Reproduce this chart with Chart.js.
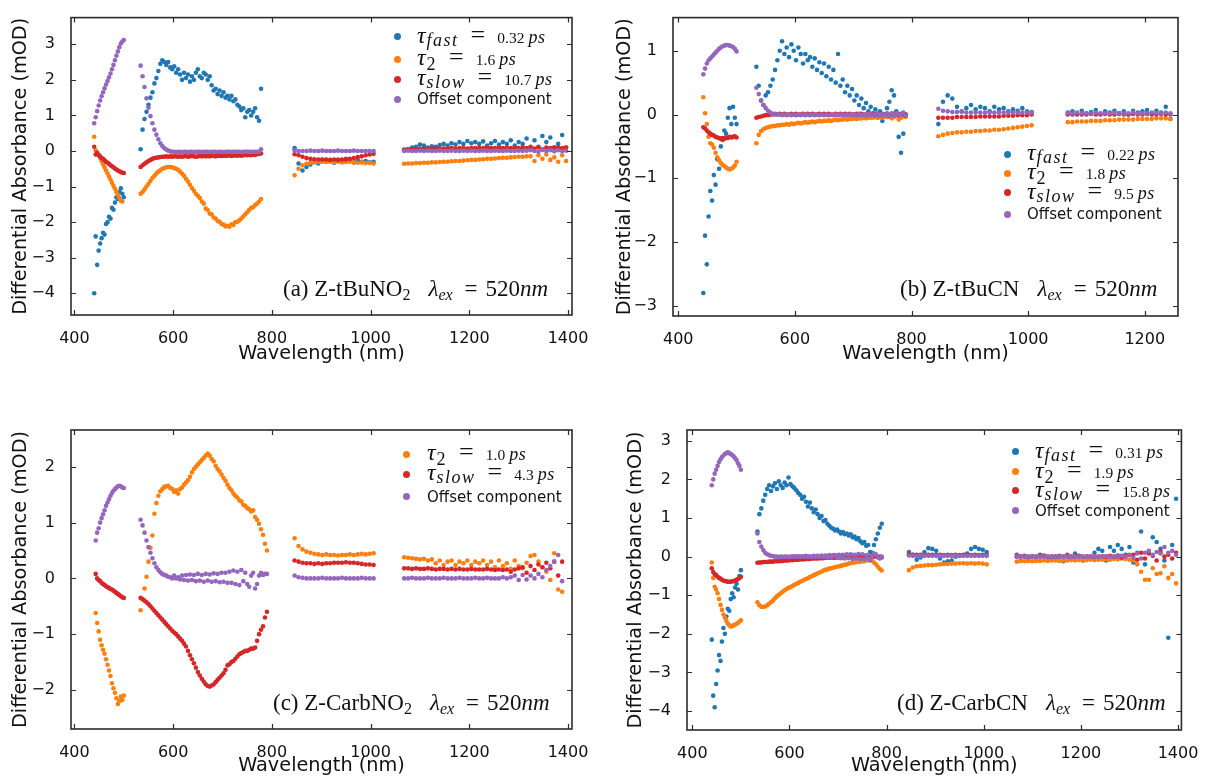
<!DOCTYPE html>
<html>
<head>
<meta charset="utf-8">
<title>Decay-associated difference spectra</title>
<script src="https://cdn.jsdelivr.net/npm/chart.js@4.4.1/dist/chart.umd.min.js"></script>
<style>
  html, body { margin: 0; padding: 0; background: #fff; }
  #fig { position: relative; width: 1205px; height: 778px; overflow: hidden; }
  .panel { position: absolute; }
  .dot { position: absolute; width: 7px; height: 7px; border-radius: 50%; }
  .row, .note { position: absolute; white-space: nowrap; font-family: 'Liberation Serif', serif;
                font-size: 22px; line-height: 22px; color: #111; }
  .tau { font-style: italic; font-size: 24px; }
  .tsub { font-style: italic; font-size: 18px; letter-spacing: 1.5px; vertical-align: -3px; margin-left: 1px; }
  .tsub.up { font-style: normal; vertical-align: -5px; }
  .eq { font-size: 26px; margin-left: 12px; }
  .num { font-size: 15.5px; margin-left: 12px; }
  .unit { font-style: italic; font-size: 18px; margin-left: 4px; letter-spacing: 0.5px; }
  .plain { font-family: 'DejaVu Sans', sans-serif; font-size: 15px; }
  .note { font-size: 23px; line-height: 23px; }
  .note .s { font-size: 16px; vertical-align: -4px; }
  .note .lam { font-style: italic; margin-left: 18px; }
  .note .s.it { font-style: italic; }
  .note .eq2 { margin: 0 8px 0 12px; }
  .note .it { font-style: italic; }
</style>
</head>
<body>
<div id="fig">
  <div class="panel" style="left:0;top:0"><canvas id="chartA" width="600" height="380"></canvas></div>
  <div class="panel" style="left:600px;top:0"><canvas id="chartB" width="605" height="380"></canvas></div>
  <div class="panel" style="left:0;top:400px"><canvas id="chartC" width="600" height="378"></canvas></div>
  <div class="panel" style="left:600px;top:400px"><canvas id="chartD" width="605" height="378"></canvas></div>
</div>
<script>
// wavelength grid (nm), four detector windows
const wlUV = [440, 443, 446, 449, 452, 455, 458, 461, 464, 467,
              470, 473, 476, 479, 482, 485, 488, 491, 494, 497, 500];
const wlVis = [534, 538, 542, 546, 550, 554, 558, 562, 566, 570,
               574, 578, 582, 586, 590, 594, 598, 602, 606, 610,
               614, 618, 622, 626, 630, 634, 638, 642, 646, 650,
               654, 658, 662, 666, 670, 674, 678, 682, 686, 690,
               694, 698, 702, 706, 710, 714, 718, 722, 726, 730,
               734, 738, 742, 746, 750, 754, 758, 762, 766, 770,
               774, 778, 782, 786, 790];
const wlNir1 = [846, 854, 862, 870, 878, 886, 894, 902, 910, 918,
                926, 934, 942, 950, 958, 966, 974, 982, 990, 998, 1006];
const wlNir2 = [1068, 1076, 1084, 1092, 1100, 1108, 1116, 1124, 1132, 1140,
                1148, 1156, 1164, 1172, 1180, 1188, 1196, 1204, 1212, 1220,
                1228, 1236, 1244, 1252, 1260, 1268, 1276, 1284, 1292, 1300,
                1308, 1316, 1324, 1332, 1340, 1348, 1356, 1364, 1372, 1380,
                1388, 1396];
const wavelengths = [].concat(wlUV, wlVis, wlNir1, wlNir2);

// axis tick values
const xTicksFull = [400, 600, 800, 1000, 1200, 1400];
const xTicksShort = [400, 600, 800, 1000, 1200];
const yTicksA = [-4, -3, -2, -1, 0, 1, 2, 3];
const yTicksB = [-3, -2, -1, 0, 1];
const yTicksC = [-2, -1, 0, 1, 2];
const yTicksD = [-4, -3, -2, -1, 0, 1, 2, 3];

// lifetimes (ps) shown in the legends
const tauA = ['0.32', '1.6', '10.7'];
const tauB = ['0.22', '1.8', '9.5'];
const tauC = ['1.0', '4.3'];
const tauD = ['0.31', '1.9', '15.8'];

// ---- (a) Z-tBuNO2 ----
const aFast = [
  -4.0, -2.4, -3.2, -2.8, -2.6, -2.45, -2.3, -2.35, -2.05, -2.0,
  -1.85, -1.9, -1.6, -1.65, -1.45, -1.3, -1.35, -1.15, -1.05, -1.2,
  -1.3,
  0.05, 0.6, 0.9, 1.1, 1.3, 1.5, 1.65, 1.9, 2.05, 2.25,
  2.45, 2.55, 2.5, 2.42, 2.5, 2.35, 2.3, 2.38, 2.2, 2.3,
  2.15, 2.0, 2.2, 2.05, 2.15, 1.95, 2.1, 2.0, 2.2, 2.3,
  2.1, 2.05, 2.2, 2.15, 2.0, 2.1, 1.85, 1.7, 1.75, 1.6,
  1.7, 1.55, 1.65, 1.5, 1.55, 1.45, 1.55, 1.4, 1.45, 1.3,
  1.25, 1.15, 1.2, 0.95, 1.1, 1.15, 1.0, 1.1, 1.2, 0.95,
  0.85, 1.75, null, null, null,
  0.08, -0.35, -0.55, -0.45, -0.38, -0.3, -0.35, -0.25, -0.3, -0.28,
  -0.33, -0.25, -0.3, -0.22, -0.28, -0.32, -0.26, -0.3, -0.28, -0.32,
  -0.3,
  0.02, 0.05, 0.1, 0.12, 0.18, 0.15, 0.1, 0.13, 0.12, 0.17,
  0.2, 0.15, 0.22, 0.18, 0.25, 0.2, 0.28, 0.22, 0.25, 0.2,
  0.27, 0.15, 0.22, 0.28, 0.18, 0.25, 0.2, 0.3, 0.15, 0.25,
  0.2, 0.35, 0.1, 0.3, 0.12, 0.42, 0.25, 0.38, 0.1, 0.2,
  0.45, 0.1
];
const aT2 = [
  0.4, 0.02, -0.05, -0.11, -0.2, -0.29, -0.37, -0.46, -0.55, -0.63,
  -0.72, -0.8, -0.89, -0.98, -1.06, -1.15, -1.23, -1.32, -1.4, -1.42,
  null,
  -1.2, -1.15, -1.08, -1.0, -0.92, -0.84, -0.76, -0.7, -0.63, -0.58,
  -0.54, -0.5, -0.48, -0.46, -0.45, -0.45, -0.46, -0.48, -0.5, -0.53,
  -0.58, -0.64, -0.7, -0.78, -0.86, -0.95, -1.04, -1.12, -1.2, -1.26,
  -1.32, -1.42, -1.48, -1.62, -1.66, -1.76, -1.78, -1.87, -1.9, -1.97,
  -1.99, -2.05, -2.07, -2.12, -2.1, -2.13, -2.06, -2.08, -2.0, -1.99,
  -1.95, -1.9, -1.84, -1.78, -1.72, -1.66, -1.6, -1.58, -1.52, -1.48,
  -1.42, -1.35, null, null, null,
  -0.68, -0.5, -0.4, -0.36, -0.33, -0.32, -0.31, -0.3, -0.31, -0.3,
  -0.31, -0.3, -0.32, -0.31, -0.3, -0.32, -0.33, -0.32, -0.34, -0.33,
  -0.35,
  -0.36, -0.35, -0.35, -0.34, -0.34, -0.33, -0.33, -0.32, -0.32, -0.31,
  -0.3, -0.3, -0.29, -0.28, -0.28, -0.27, -0.26, -0.25, -0.25, -0.24,
  -0.23, -0.22, -0.22, -0.21, -0.2, -0.19, -0.19, -0.18, -0.17, -0.16,
  -0.16, -0.15, -0.15, -0.28, -0.12, -0.22, -0.1, -0.25, -0.18, -0.3,
  -0.12, -0.28
];
const aSlow = [
  0.12, -0.1, -0.05, -0.12, -0.15, -0.2, -0.22, -0.26, -0.3, -0.33,
  -0.36, -0.4, -0.43, -0.46, -0.49, -0.52, -0.55, -0.57, -0.59, -0.61,
  -0.62,
  -0.45, -0.4, -0.36, -0.32, -0.28, -0.25, -0.22, -0.2, -0.19, -0.18,
  -0.17, -0.16, -0.16, -0.15, -0.16, -0.15, -0.16, -0.15, -0.15, -0.16,
  -0.15, -0.16, -0.15, -0.14, -0.16, -0.15, -0.14, -0.15, -0.16, -0.15,
  -0.14, -0.15, -0.14, -0.15, -0.14, -0.15, -0.13, -0.14, -0.15, -0.14,
  -0.13, -0.14, -0.13, -0.14, -0.13, -0.12, -0.14, -0.13, -0.12, -0.13,
  -0.12, -0.13, -0.12, -0.11, -0.12, -0.11, -0.12, -0.1, -0.11, -0.09,
  -0.08, -0.07, null, null, null,
  -0.09, -0.12, -0.16, -0.2, -0.22, -0.23, -0.24, -0.24, -0.24, -0.25,
  -0.24, -0.25, -0.24, -0.24, -0.22, -0.2, -0.17, -0.15, -0.12, -0.1,
  -0.08,
  0.04, 0.05, 0.05, 0.06, 0.06, 0.06, 0.07, 0.06, 0.07, 0.07,
  0.07, 0.07, 0.08, 0.07, 0.08, 0.08, 0.07, 0.08, 0.08, 0.08,
  0.08, 0.09, 0.08, 0.08, 0.09, 0.08, 0.09, 0.08, 0.09, 0.08,
  0.1, 0.08, 0.12, 0.07, 0.1, 0.05, 0.1, 0.08, 0.1, 0.09,
  0.08, 0.1
];
const aOffset = [
  0.78, 0.95, 1.12, 1.28, 1.42, 1.54, 1.65, 1.76, 1.87, 1.97,
  2.07, 2.18, 2.3, 2.42, 2.55, 2.68, 2.8, 2.92, 3.02, 3.08,
  3.12,
  2.4, 2.1, 1.8, 1.48, 1.22, 0.98, 0.78, 0.6, 0.46, 0.33,
  0.22, 0.14, 0.08, 0.04, 0.01, -0.01, -0.02, -0.02, -0.03, -0.02,
  -0.02, -0.03, -0.02, -0.02, -0.03, -0.02, -0.02, -0.03, -0.02, -0.02,
  -0.02, -0.03, -0.02, -0.02, -0.02, -0.03, -0.02, -0.02, -0.02, -0.03,
  -0.02, -0.02, -0.03, -0.02, -0.02, -0.02, -0.03, -0.02, -0.02, -0.02,
  -0.02, -0.03, -0.02, -0.02, -0.02, -0.02, -0.03, -0.02, -0.02, -0.02,
  -0.02, 0.05, null, null, null,
  0.01, 0.0, 0.0, 0.0, 0.01, 0.0, 0.0, 0.01, 0.0, 0.0,
  0.0, 0.01, 0.0, 0.0, 0.0, 0.01, 0.0, 0.0, 0.0, 0.0,
  0.0,
  0.0, 0.01, 0.0, 0.0, 0.01, 0.0, 0.01, 0.0, 0.0, 0.01,
  0.0, 0.0, 0.01, 0.0, 0.0, 0.01, 0.0, 0.01, 0.0, 0.0,
  0.01, 0.0, 0.0, 0.01, 0.0, 0.0, 0.01, 0.0, 0.0, 0.01,
  0.0, 0.01, 0.02, 0.0, -0.02, 0.03, 0.0, 0.02, -0.01, 0.02,
  0.0, 0.01
];

// ---- (b) Z-tBuCN (NIR window stops at 1244 nm) ----
const bFast = [
  null, -2.8, -1.9, -2.35, -1.6, -1.2, -1.35, -0.95, -1.1, -0.7,
  -0.85, -0.5, -0.4, -0.25, -0.3, -0.05, 0.1, -0.15, 0.12, -0.05,
  -0.15,
  0.75, 0.45, 0.22, 0.15, 0.3, 0.35, 0.45, 0.55, 0.7, 0.85,
  1.0, 1.15, 0.95, 1.05, 0.9, 1.1, 1.0, 0.85, 1.05, 0.95,
  0.8, 0.95, 0.85, 0.9, 0.75, 0.88, 0.7, 0.82, 0.65, 0.8,
  0.6, 0.75, 0.55, 0.7, 0.5, 0.95, 0.45, 0.55, 0.35, 0.45,
  0.3, 0.4, 0.22, 0.3, 0.15, 0.25, 0.1, 0.18, 0.05, 0.12,
  0.02, 0.08, -0.05, 0.05, -0.1, 0.0, 0.1, 0.2, 0.38, 0.3,
  0.05, -0.35, -0.6, -0.3, 0.0,
  -0.15, 0.2, 0.3, 0.25, 0.12, 0.05, 0.1, 0.15, 0.08, 0.12,
  0.1, 0.05, 0.12, 0.08, 0.1, 0.05, 0.08, 0.06, 0.1, 0.05,
  0.04,
  0.03, 0.05, 0.0, 0.06, 0.02, 0.04, 0.07, 0.01, 0.05, 0.03,
  0.06, 0.02, 0.05, 0.0, 0.06, 0.03, 0.05, 0.07, 0.02, 0.06,
  0.03, 0.12, -0.07
];
const bT2 = [
  null, 0.27, 0.02, -0.15, -0.35, -0.45, -0.47, -0.52, -0.6, -0.67,
  -0.72, -0.76, -0.79, -0.81, -0.83, -0.85, -0.86, -0.85, -0.83, -0.8,
  -0.74,
  -0.45, -0.32, -0.26, -0.23, -0.21, -0.2, -0.19, -0.18, -0.18, -0.17,
  -0.17, -0.16, -0.16, -0.15, -0.16, -0.14, -0.15, -0.14, -0.13, -0.14,
  -0.13, -0.12, -0.13, -0.12, -0.11, -0.12, -0.11, -0.1, -0.11, -0.1,
  -0.1, -0.09, -0.1, -0.09, -0.08, -0.09, -0.08, -0.08, -0.07, -0.08,
  -0.07, -0.07, -0.06, -0.07, -0.06, -0.06, -0.05, -0.06, -0.05, -0.05,
  -0.05, -0.04, -0.05, -0.04, -0.05, -0.03, -0.04, -0.03, -0.06, -0.04,
  -0.02, -0.08, -0.05, -0.03, -0.04,
  -0.34, -0.32, -0.3, -0.29, -0.28, -0.28, -0.27, -0.27, -0.26, -0.26,
  -0.25, -0.25, -0.24, -0.24, -0.23, -0.22, -0.21, -0.2, -0.19, -0.18,
  -0.17,
  -0.12, -0.12, -0.11, -0.11, -0.11, -0.1, -0.1, -0.1, -0.09, -0.09,
  -0.09, -0.08, -0.08, -0.08, -0.08, -0.07, -0.07, -0.07, -0.07, -0.06,
  -0.06, -0.06, -0.07
];
const bSlow = [
  null, -0.2, -0.22, -0.25, -0.28, -0.3, -0.32, -0.33, -0.35, -0.36,
  -0.37, -0.38, -0.37, -0.38, -0.36, -0.37, -0.35, -0.36, -0.35, -0.34,
  -0.36,
  -0.05, -0.04, -0.03, -0.02, -0.01, -0.01, 0.0, 0.0, 0.01, 0.0,
  0.01, 0.0, 0.01, 0.0, 0.0, 0.01, 0.0, 0.01, 0.0, 0.0,
  0.01, 0.0, 0.01, 0.0, 0.01, 0.0, 0.0, 0.01, 0.0, 0.01,
  0.0, 0.01, 0.0, 0.0, 0.01, 0.0, 0.01, 0.0, 0.01, 0.0,
  0.01, 0.0, 0.0, 0.01, 0.0, 0.01, 0.0, 0.0, 0.01, 0.0,
  0.01, 0.0, 0.0, 0.01, 0.0, 0.0, 0.01, 0.0, 0.0, 0.01,
  0.0, 0.0, 0.01, 0.0, 0.0,
  -0.05, -0.05, -0.05, -0.05, -0.04, -0.04, -0.04, -0.04, -0.04, -0.03,
  -0.03, -0.03, -0.03, -0.03, -0.02, -0.02, -0.02, -0.01, -0.01, -0.01,
  0.0,
  0.0, 0.0, 0.01, 0.0, 0.0, 0.01, 0.0, 0.0, 0.01, 0.0,
  0.0, 0.01, 0.0, 0.0, 0.01, 0.0, 0.0, 0.01, 0.0, 0.0,
  0.01, 0.0, 0.0
];
const bOffset = [
  null, 0.63, 0.72, 0.8, 0.85, 0.88, 0.91, 0.94, 0.97, 1.0,
  1.03, 1.05, 1.07, 1.08, 1.09, 1.09, 1.08, 1.07, 1.06, 1.03,
  0.99,
  0.42, 0.32, 0.22, 0.15, 0.1, 0.06, 0.03, 0.01, 0.0, 0.0,
  0.0, -0.01, 0.0, -0.01, 0.0, -0.01, 0.0, -0.01, 0.0, -0.01,
  0.0, -0.01, 0.0, -0.01, 0.0, -0.01, 0.0, -0.01, 0.0, -0.01,
  0.0, -0.01, 0.0, -0.01, 0.0, -0.01, 0.0, -0.01, 0.0, -0.01,
  0.0, -0.01, 0.0, -0.02, 0.01, -0.01, 0.0, -0.02, 0.01, -0.01,
  0.0, -0.02, 0.02, -0.02, 0.01, -0.02, 0.02, -0.03, 0.02, -0.02,
  0.02, -0.02, 0.0, 0.03, -0.02,
  0.09, 0.06, 0.05, 0.04, 0.04, 0.04, 0.03, 0.03, 0.03, 0.03,
  0.03, 0.03, 0.03, 0.03, 0.03, 0.03, 0.03, 0.03, 0.03, 0.03,
  0.03,
  0.02, 0.02, 0.03, 0.02, 0.02, 0.02, 0.03, 0.02, 0.02, 0.02,
  0.03, 0.02, 0.02, 0.02, 0.03, 0.02, 0.02, 0.02, 0.03, 0.02,
  0.02, 0.03, 0.02
];

// ---- (c) Z-CarbNO2 ----
const cT2 = [
  null, -0.62, -0.8, -0.95, -1.1, -1.2, -1.28, -1.35, -1.45, -1.55,
  -1.65, -1.75, -1.88, -1.97, -2.05, -2.15, -2.25, -2.2, -2.12, -2.18,
  -2.1,
  -0.57, -0.38, -0.18, 0.03, 0.3, 0.55, 0.77, 1.16, 1.35, 1.48,
  1.56, 1.6, 1.64, 1.65, 1.66, 1.62, 1.6, 1.55, 1.58, 1.52,
  1.6, 1.63, 1.68, 1.72, 1.76, 1.82, 1.9, 1.96, 2.0, 2.04,
  2.08, 2.12, 2.16, 2.2, 2.24, 2.2, 2.14, 2.1, 2.02, 1.96,
  1.92, 1.86, 1.8, 1.75, 1.68, 1.62, 1.58, 1.52, 1.48, 1.45,
  1.4, 1.38, 1.32, 1.3, 1.26, 1.24, 1.2, 1.22, 1.1, 1.05,
  0.98, 0.88, 0.78, 0.62, 0.5,
  0.72, 0.58, 0.52, 0.48, 0.46, 0.44, 0.43, 0.42, 0.43, 0.42,
  0.42, 0.41, 0.42, 0.42, 0.43, 0.42, 0.43, 0.44, 0.43, 0.44,
  0.45,
  0.38, 0.37, 0.36, 0.35, 0.34, 0.35, 0.32, 0.34, 0.27, 0.32,
  0.24, 0.3, 0.32, 0.24, 0.3, 0.27, 0.32, 0.24, 0.3, 0.27,
  0.32, 0.24, 0.3, 0.2, 0.32, 0.22, 0.27, 0.17, 0.32, 0.22,
  0.18, 0.28, 0.4, 0.42, 0.3, 0.2, 0.12, -0.03, 0.45, -0.2,
  -0.24, null
];
const cSlow = [
  null, 0.08, 0.0, -0.03, -0.05, -0.08, -0.1, -0.12, -0.14, -0.16,
  -0.17, -0.19, -0.2, -0.22, -0.24, -0.26, -0.28, -0.3, -0.32, -0.34,
  -0.35,
  -0.35, -0.37, -0.4, -0.43, -0.46, -0.5, -0.54, -0.58, -0.62, -0.66,
  -0.7, -0.74, -0.78, -0.82, -0.86, -0.9, -0.94, -0.97, -1.0, -1.04,
  -1.08, -1.12, -1.17, -1.22, -1.3, -1.38, -1.45, -1.52, -1.6, -1.68,
  -1.74, -1.8, -1.85, -1.9, -1.93, -1.94, -1.92, -1.9, -1.86, -1.82,
  -1.78, -1.74, -1.7, -1.64, -1.56, -1.54, -1.5, -1.48, -1.44, -1.4,
  -1.36, -1.34, -1.32, -1.3, -1.3, -1.28, -1.26, -1.26, -1.24, -1.12,
  -1.0, -0.92, -0.86, -0.7, -0.6,
  0.32, 0.3, 0.28, 0.27, 0.27, 0.26, 0.27, 0.26, 0.27, 0.27,
  0.28, 0.28, 0.28, 0.29, 0.28, 0.28, 0.27, 0.26, 0.25, 0.25,
  0.24,
  0.18, 0.18, 0.17, 0.18, 0.17, 0.17, 0.18, 0.17, 0.16, 0.17,
  0.17, 0.16, 0.17, 0.16, 0.17, 0.16, 0.16, 0.17, 0.16, 0.16,
  0.16, 0.17, 0.16, 0.15, 0.16, 0.15, 0.16, 0.12, 0.16, 0.18,
  0.2, 0.1, 0.22, 0.15, 0.25, 0.2, 0.28, 0.18, 0.3, 0.05,
  0.3, null
];
const cOffset = [
  null, 0.68, 0.82, 0.9, 1.0, 1.08, 1.15, 1.22, 1.3, 1.36,
  1.42, 1.48, 1.53, 1.57, 1.6, 1.63, 1.65, 1.66, 1.65, 1.63,
  1.62,
  1.05, 0.95, 0.82, 0.68, 0.56, 0.46, 0.36, 0.27, 0.2, 0.15,
  0.11, 0.08, 0.06, 0.05, 0.03, 0.02, 0.0, 0.05, 0.0, 0.02,
  -0.02, 0.05, -0.03, 0.06, -0.04, 0.07, -0.03, 0.06, -0.05, 0.08,
  -0.04, 0.06, -0.06, 0.08, -0.04, 0.07, -0.06, 0.09, -0.05, 0.08,
  -0.07, 0.1, -0.06, 0.1, -0.08, 0.12, -0.08, 0.14, -0.1, 0.12,
  -0.12, 0.15, -0.05, 0.1, -0.1, -0.15, 0.05, 0.1, -0.18, -0.1,
  0.05, 0.1, 0.06, 0.08, 0.08,
  0.05, 0.02, 0.01, 0.0, 0.0, 0.0, 0.0, 0.01, 0.0, 0.0,
  0.0, 0.0, 0.01, 0.0, 0.0, 0.0, 0.0, 0.01, 0.0, 0.0,
  0.0,
  0.0, 0.0, 0.01, 0.0, 0.0, 0.0, 0.01, 0.0, 0.0, 0.0,
  0.01, 0.0, 0.0, 0.0, 0.01, 0.0, 0.0, 0.0, 0.01, 0.0,
  0.0, 0.01, 0.0, 0.0, 0.0, 0.02, 0.0, 0.02, 0.05, -0.03,
  0.06, -0.02, 0.05, 0.0, 0.08, 0.02, 0.15, 0.22, 0.3, 0.42,
  -0.05, null
];

// ---- (d) Z-CarbCN ----
const dFast = [
  -2.15, -3.6, -3.9, -3.3, -2.95, -2.55, -2.7, -2.2, -1.85, -2.0,
  -1.55, -1.35, -1.4, -1.1, -0.95, -1.05, -0.8, -0.7, -0.85, -0.5,
  -0.35,
  0.65, 1.1, 1.25, 1.45, 1.6, 1.75, 1.85, 1.7, 1.82, 1.9,
  1.75, 1.95, 1.85, 1.78, 1.92, 1.85, 2.05, 1.88, 1.82, 1.78,
  1.72, 1.65, 1.6, 1.5, 1.55, 1.42, 1.3, 1.4, 1.25, 1.15,
  1.22, 1.1, 1.0, 1.05, 0.92, 0.95, 0.85, 0.8, 0.75, 0.72,
  0.68, 0.7, 0.65, 0.6, 0.64, 0.58, 0.6, 0.55, 0.58, 0.5,
  0.52, 0.45, 0.48, 0.4, 0.35, 0.38, 0.28, 0.3, 0.12, 0.1,
  0.3, 0.45, 0.6, 0.75, 0.85,
  0.12, 0.05, -0.08, -0.02, 0.12, 0.22, 0.2, 0.15, -0.05, -0.15,
  -0.12, -0.1, 0.0, 0.02, 0.04, 0.08, 0.2, 0.25, 0.2, 0.18,
  0.12,
  0.05, -0.1, 0.02, -0.08, 0.0, -0.1, 0.05, 0.03, -0.08, 0.0,
  -0.05, 0.02, -0.12, 0.05, -0.05, 0.08, 0.02, -0.1, 0.0, -0.05,
  0.1, 0.2, 0.15, -0.1, 0.25, 0.15, 0.3, 0.2, 0.05, 0.25,
  -0.15, 0.1, 0.65, -0.2, 0.1, 0.5, 0.38, 0.2, -0.1, -2.1,
  0.3, 1.5
];
const dT2 = [
  -0.15, -0.55, -0.78, -0.85, -0.95, -1.1, -1.25, -1.38, -1.5, -1.58,
  -1.66, -1.73, -1.78, -1.81, -1.8, -1.78, -1.76, -1.74, -1.72, -1.68,
  -1.65,
  -1.18, -1.26, -1.3, -1.3, -1.29, -1.26, -1.22, -1.18, -1.14, -1.08,
  -1.03, -0.99, -0.95, -0.91, -0.87, -0.84, -0.81, -0.79, -0.76, -0.73,
  -0.71, -0.68, -0.65, -0.63, -0.6, -0.58, -0.56, -0.53, -0.51, -0.48,
  -0.46, -0.43, -0.41, -0.39, -0.36, -0.34, -0.33, -0.31, -0.3, -0.29,
  -0.27, -0.26, -0.25, -0.24, -0.22, -0.21, -0.2, -0.18, -0.17, -0.16,
  -0.15, -0.14, -0.13, -0.13, -0.12, -0.12, -0.1, -0.09, -0.08, -0.1,
  -0.15, -0.2, -0.26, -0.32, -0.36,
  -0.35, -0.28, -0.25, -0.24, -0.23, -0.22, -0.22, -0.21, -0.2, -0.19,
  -0.19, -0.18, -0.18, -0.17, -0.17, -0.18, -0.17, -0.18, -0.17, -0.18,
  -0.2,
  -0.13, -0.12, -0.12, -0.11, -0.12, -0.11, -0.11, -0.1, -0.11, -0.1,
  -0.1, -0.11, -0.1, -0.1, -0.09, -0.1, -0.09, -0.1, -0.09, -0.08,
  -0.09, -0.08, -0.08, -0.07, -0.08, -0.06, -0.07, -0.05, -0.06, -0.08,
  -0.1, -0.2, -0.39, -0.6, -0.6, -0.3, -0.45, -0.43, -0.25, -0.55,
  -0.45, -0.69
];
const dSlow = [
  -0.3, -0.4, -0.45, -0.48, -0.52, -0.55, -0.57, -0.6, -0.62, -0.63,
  -0.64, -0.65, -0.65, -0.65, -0.64, -0.63, -0.62, -0.6, -0.58, -0.55,
  -0.52,
  -0.16, -0.15, -0.15, -0.14, -0.14, -0.14, -0.13, -0.13, -0.13, -0.12,
  -0.12, -0.12, -0.11, -0.11, -0.1, -0.1, -0.1, -0.09, -0.09, -0.08,
  -0.08, -0.08, -0.07, -0.07, -0.07, -0.06, -0.06, -0.06, -0.05, -0.05,
  -0.05, -0.05, -0.04, -0.04, -0.04, -0.03, -0.03, -0.03, -0.03, -0.03,
  -0.03, -0.02, -0.02, -0.02, -0.02, -0.02, -0.01, -0.01, -0.01, -0.01,
  -0.01, 0.0, -0.01, 0.0, -0.01, 0.0, 0.01, 0.0, -0.01, 0.0,
  0.0, 0.01, -0.01, 0.0, -0.02,
  0.06, 0.05, 0.05, 0.05, 0.05, 0.05, 0.05, 0.04, 0.05, 0.04,
  0.05, 0.04, 0.05, 0.04, 0.05, 0.05, 0.04, 0.05, 0.04, 0.05,
  0.04,
  0.0, 0.01, 0.0, 0.0, 0.01, 0.0, 0.0, 0.01, 0.0, 0.0,
  0.01, 0.0, 0.0, 0.01, 0.0, 0.0, 0.01, 0.0, 0.0, 0.01,
  0.0, 0.0, 0.01, 0.0, 0.02, 0.0, 0.03, -0.02, 0.02, 0.04,
  0.05, -0.08, 0.1, -0.05, 0.08, 0.02, -0.1, 0.12, 0.0, 0.05,
  -0.05, 0.1
];
const dOffset = [
  1.85, 2.0, 2.15, 2.25, 2.35, 2.45, 2.52, 2.58, 2.62, 2.66,
  2.68, 2.7, 2.68, 2.66, 2.63, 2.6, 2.55, 2.5, 2.42, 2.35,
  2.25,
  0.6, 0.38, 0.26, 0.17, 0.1, 0.06, 0.04, 0.02, 0.01, 0.0,
  0.0, -0.01, 0.0, -0.01, 0.0, 0.0, -0.01, 0.0, 0.0, 0.01,
  0.0, 0.01, 0.0, 0.01, 0.0, 0.02, 0.0, 0.01, -0.01, 0.02,
  0.0, 0.02, -0.01, 0.03, -0.01, 0.03, -0.02, 0.04, -0.02, 0.04,
  0.04, -0.03, 0.05, -0.04, 0.05, -0.05, 0.06, -0.04, 0.06, -0.06,
  0.05, -0.05, 0.07, -0.06, 0.06, -0.07, 0.04, -0.05, -0.1, 0.0,
  0.08, 0.06, -0.02, -0.05, 0.0,
  0.03, 0.02, 0.02, 0.02, 0.02, 0.02, 0.02, 0.02, 0.02, 0.02,
  0.02, 0.02, 0.02, 0.02, 0.02, 0.02, 0.02, 0.02, 0.02, 0.02,
  0.02,
  0.0, 0.0, 0.0, 0.0, 0.0, 0.0, 0.0, 0.0, 0.0, 0.0,
  0.0, 0.0, 0.0, 0.0, 0.0, 0.0, 0.0, 0.0, 0.0, 0.0,
  0.0, 0.0, 0.0, 0.01, 0.0, 0.0, 0.0, 0.02, 0.0, 0.05,
  -0.03, 0.08, -0.05, 0.1, 0.15, 0.05, 0.12, 0.08, 0.25, 0.1,
  0.15, 0.05
];

const BLUE = '#1f77b4', ORANGE = '#ff7f0e', RED = '#d62728', PURPLE = '#9467bd';
const INK = '#111111';

function toPoints(values) {
  const pts = [];
  values.forEach((v, i) => {
    if (v !== null && v !== undefined) pts.push({ x: wavelengths[i], y: v });
  });
  return pts;
}

function minusSign(v) {
  return v < 0 ? '\u2212' + Math.abs(v) : String(v);
}

// box around the plot with inward ticks on all four sides
const frameTicks = {
  id: 'frameTicks',
  afterDatasetsDraw(chart) {
    const { ctx, chartArea: ca } = chart;
    const xs = chart.scales.x, ys = chart.scales.y;
    const len = 5;
    ctx.save();
    ctx.strokeStyle = '#2b2b2b';
    ctx.lineWidth = 1.2;
    ctx.beginPath();
    xs.ticks.forEach(t => {
      const px = Math.round(xs.getPixelForValue(t.value)) + 0.5;
      ctx.moveTo(px, ca.bottom); ctx.lineTo(px, ca.bottom - len);
      ctx.moveTo(px, ca.top); ctx.lineTo(px, ca.top + len);
    });
    ys.ticks.forEach(t => {
      const py = Math.round(ys.getPixelForValue(t.value)) + 0.5;
      ctx.moveTo(ca.left, py); ctx.lineTo(ca.left + len, py);
      ctx.moveTo(ca.right, py); ctx.lineTo(ca.right - len, py);
    });
    ctx.stroke();
    ctx.lineWidth = 1.6;
    ctx.strokeRect(ca.left, ca.top, ca.right - ca.left, ca.bottom - ca.top);
    ctx.restore();
  }
};

function buildChart(canvasId, box, series) {
  const datasets = series.map((s, i) => ({
    label: s.label,
    data: toPoints(s.values),
    backgroundColor: s.color,
    borderWidth: 0,
    pointRadius: 2.3,
    pointHoverRadius: 2.3,
    order: series.length - i
  }));
  const tickFont = { family: 'DejaVu Sans', size: 16 };
  const titleFont = { family: 'DejaVu Sans', size: 19.3 };
  return new Chart(document.getElementById(canvasId), {
    type: 'scatter',
    data: { datasets },
    options: {
      responsive: false,
      animation: false,
      events: [],
      layout: { padding: { top: box.padTop, right: box.padRight, left: 0, bottom: 0 } },
      plugins: { legend: { display: false }, tooltip: { enabled: false } },
      scales: {
        x: {
          type: 'linear', min: box.xMin, max: box.xMax,
          afterBuildTicks: s => { s.ticks = box.xTicks.map(v => ({ value: v })); },
          afterFit: s => { s.height = box.xAxisH; },
          grid: { display: false }, border: { display: false },
          ticks: { padding: 6.5, maxRotation: 0, autoSkip: false, font: tickFont, color: INK,
                   callback: v => String(v) },
          title: { display: true, text: 'Wavelength (nm)', font: titleFont, color: INK,
                   padding: { top: 0, bottom: box.xTitlePad } }
        },
        y: {
          type: 'linear', min: box.yMin, max: box.yMax,
          afterBuildTicks: s => { s.ticks = box.yTicks.map(v => ({ value: v })); },
          afterFit: s => { s.width = box.yAxisW; },
          grid: { display: false }, border: { display: false },
          ticks: { padding: 8, autoSkip: false, font: tickFont, color: INK,
                   callback: v => minusSign(v) },
          title: { display: true, text: 'Differential Absorbance (mOD)', font: titleFont, color: INK,
                   padding: { top: box.yTitlePad, bottom: 0 } }
        }
      }
    },
    plugins: [frameTicks]
  });
}

buildChart('chartA',
  { xMin: 393, xMax: 1408, yMin: -4.61, yMax: 3.75, xTicks: xTicksFull, yTicks: yTicksA,
    yAxisW: 71, xAxisH: 65, padTop: 16, padRight: 28, yTitlePad: 9.4, xTitlePad: 14.4 },
  [{ label: 'fast', values: aFast, color: BLUE }, { label: '2', values: aT2, color: ORANGE },
   { label: 'slow', values: aSlow, color: RED }, { label: 'Offset component', values: aOffset, color: PURPLE }]);

buildChart('chartB',
  { xMin: 391, xMax: 1257, yMin: -3.16, yMax: 1.52, xTicks: xTicksShort, yTicks: yTicksB,
    yAxisW: 73, xAxisH: 64, padTop: 16, padRight: 27, yTitlePad: 13.4, xTitlePad: 14.4 },
  [{ label: 'fast', values: bFast, color: BLUE }, { label: '2', values: bT2, color: ORANGE },
   { label: 'slow', values: bSlow, color: RED }, { label: 'Offset component', values: bOffset, color: PURPLE }]);

buildChart('chartC',
  { xMin: 393, xMax: 1408, yMin: -2.70, yMax: 2.66, xTicks: xTicksFull, yTicks: yTicksC,
    yAxisW: 71, xAxisH: 49, padTop: 30, padRight: 28, yTitlePad: 9.9, xTitlePad: 0 },
  [{ label: '2', values: cT2, color: ORANGE }, { label: 'slow', values: cSlow, color: RED },
   { label: 'Offset component', values: cOffset, color: PURPLE }]);

buildChart('chartD',
  { xMin: 389, xMax: 1407, yMin: -4.49, yMax: 3.28, xTicks: xTicksFull, yTicks: yTicksD,
    yAxisW: 87, xAxisH: 48, padTop: 30, padRight: 18, yTitlePad: 24.4, xTitlePad: 0 },
  [{ label: 'fast', values: dFast, color: BLUE }, { label: '2', values: dT2, color: ORANGE },
   { label: 'slow', values: dSlow, color: RED }, { label: 'Offset component', values: dOffset, color: PURPLE }]);

// legends and panel captions as page text
const fig = document.getElementById('fig');

function tauHtml(sub, val) {
  const cls = /^\d+$/.test(sub) ? 'tsub up' : 'tsub';
  return '<span class="tau">\u03c4</span><span class="' + cls + '">' + sub + '</span>' +
         '<span class="eq">=</span><span class="num">' + val + '</span><span class="unit">ps</span>';
}

function addLegend(markerX, textX, rowsY, entries) {
  entries.forEach((e, i) => {
    const y = rowsY[i];
    const dot = document.createElement('div');
    dot.className = 'dot';
    dot.style.left = (markerX - 3.5) + 'px';
    dot.style.top = (y - 3.5) + 'px';
    dot.style.background = e.color;
    fig.appendChild(dot);
    const row = document.createElement('div');
    row.className = 'row';
    row.style.left = textX + 'px';
    row.style.top = (y - 12.9) + 'px';
    row.innerHTML = e.html;
    fig.appendChild(row);
  });
}

const offsetHtml = '<span class="plain">Offset component</span>';

addLegend(397.3, 417, [36.7, 59.3, 79, 99.3], [
  { color: BLUE, html: tauHtml('fast', tauA[0]) },
  { color: ORANGE, html: tauHtml('2', tauA[1]) },
  { color: RED, html: tauHtml('slow', tauA[2]) },
  { color: PURPLE, html: offsetHtml }]);
addLegend(1007.7, 1027, [154, 173.3, 192.7, 214.3], [
  { color: BLUE, html: tauHtml('fast', tauB[0]) },
  { color: ORANGE, html: tauHtml('2', tauB[1]) },
  { color: RED, html: tauHtml('slow', tauB[2]) },
  { color: PURPLE, html: offsetHtml }]);
addLegend(406, 427, [454.3, 474.3, 496.7], [
  { color: ORANGE, html: tauHtml('2', tauC[0]) },
  { color: RED, html: tauHtml('slow', tauC[1]) },
  { color: PURPLE, html: offsetHtml }]);
addLegend(1015, 1035, [451.7, 471.7, 490.7, 510.7], [
  { color: BLUE, html: tauHtml('fast', tauD[0]) },
  { color: ORANGE, html: tauHtml('2', tauD[1]) },
  { color: RED, html: tauHtml('slow', tauD[2]) },
  { color: PURPLE, html: offsetHtml }]);

function addCaption(x, baseline, nameHtml) {
  const note = document.createElement('div');
  note.className = 'note';
  note.style.left = x + 'px';
  note.style.top = (baseline - 19.3) + 'px';
  note.innerHTML = nameHtml +
    '<span class="lam">\u03bb</span><span class="s it">ex</span>' +
    '<span class="eq2">=</span>520<span class="it">nm</span>';
  fig.appendChild(note);
}

addCaption(283, 296.7, '(a) Z-tBuNO<span class="s">2</span>');
addCaption(900, 296.7, '(b) Z-tBuCN');
addCaption(273, 710, '(c) Z-CarbNO<span class="s">2</span>');
addCaption(897, 710, '(d) Z-CarbCN');
</script>
</body>
</html>
